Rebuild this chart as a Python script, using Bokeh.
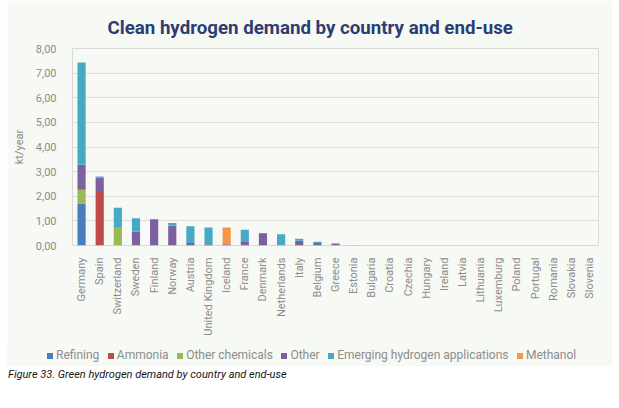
from bokeh.plotting import figure
from bokeh.models import FactorRange, FixedTicker, Div, ColumnDataSource
from bokeh.layouts import column
from bokeh.embed import file_html
from bokeh.resources import INLINE
import math

countries = ["Germany", "Spain", "Switzerland", "Sweden", "Finland", "Norway", "Austria",
             "United Kingdom", "Iceland", "France", "Denmark", "Netherlands", "Italy", "Belgium",
             "Greece", "Estonia", "Bulgaria", "Croatia", "Czechia", "Hungary", "Ireland", "Latvia",
             "Lithuania", "Luxemburg", "Poland", "Portugal", "Romania", "Slovakia", "Slovenia"]

refining        = [1.70, 0.00, 0.00, 0.00, 0.00, 0.00, 0.00, 0.00, 0.00, 0.00, 0.00, 0.00, 0.00, 0.00, 0.00, 0.00, 0, 0, 0, 0, 0, 0, 0, 0, 0, 0, 0, 0, 0]
ammonia         = [0.00, 2.21, 0.00, 0.00, 0.00, 0.00, 0.00, 0.00, 0.00, 0.00, 0.00, 0.00, 0.00, 0.00, 0.00, 0.00, 0, 0, 0, 0, 0, 0, 0, 0, 0, 0, 0, 0, 0]
other_chemicals = [0.56, 0.00, 0.75, 0.00, 0.00, 0.00, 0.00, 0.00, 0.00, 0.00, 0.00, 0.00, 0.00, 0.00, 0.00, 0.00, 0, 0, 0, 0, 0, 0, 0, 0, 0, 0, 0, 0, 0]
other           = [1.02, 0.55, 0.00, 0.57, 1.07, 0.81, 0.10, 0.05, 0.05, 0.14, 0.47, 0.00, 0.19, 0.10, 0.08, 0.01, 0, 0, 0, 0, 0, 0, 0, 0, 0, 0, 0, 0, 0]
emerging        = [4.15, 0.04, 0.78, 0.54, 0.00, 0.10, 0.68, 0.68, 0.00, 0.50, 0.04, 0.46, 0.08, 0.05, 0.00, 0.00, 0, 0, 0, 0, 0, 0, 0, 0, 0, 0, 0, 0, 0]
methanol        = [0.00, 0.00, 0.00, 0.00, 0.00, 0.00, 0.00, 0.00, 0.68, 0.00, 0.00, 0.00, 0.00, 0.00, 0.00, 0.00, 0, 0, 0, 0, 0, 0, 0, 0, 0, 0, 0, 0, 0]

series_keys = ["refining", "ammonia", "other_chemicals", "other", "emerging", "methanol"]
series_labels = ["Refining", "Ammonia", "Other chemicals", "Other", "Emerging hydrogen applications", "Methanol"]
colors = ["#4a7ebb", "#be4b48", "#98b954", "#7d60a0", "#46aac5", "#f79646"]

y_ticks = [0, 1, 2, 3, 4, 5, 6, 7, 8]
y_tick_labels = ["0,00", "1,00", "2,00", "3,00", "4,00", "5,00", "6,00", "7,00", "8,00"]

source = ColumnDataSource(dict(country=countries, refining=refining, ammonia=ammonia,
                               other_chemicals=other_chemicals, other=other,
                               emerging=emerging, methanol=methanol))

BG = "#f7f9f4"
GREY = "#8c8c8c"

p = figure(x_range=FactorRange(*countries), y_range=(0, 8), width=605, height=346,
           output_backend="svg", toolbar_location=None,
           background_fill_color=BG, border_fill_color=BG,
           min_border_left=65, min_border_right=14, min_border_top=48, min_border_bottom=101)
p.margin = (0, 0, 0, 7)

p.vbar_stack(series_keys, x="country", width=0.45, color=colors, source=source, line_width=0)

p.title.text = "Clean hydrogen demand by country and end-use"
p.title.align = "left"
p.title.text_font = "Roboto"
p.title.text_font_size = "18.7px"
p.title.text_font_style = "bold"
p.title.text_color = "#2b3d73"
p.title.offset = 35
p.title.standoff = 19

p.outline_line_color = "#d9d9d9"
p.xgrid.grid_line_color = None
p.ygrid.grid_line_color = "#dcdcdc"

p.yaxis.ticker = FixedTicker(ticks=y_ticks)
p.yaxis.major_label_overrides = {t: l for t, l in zip(y_ticks, y_tick_labels)}
p.yaxis.axis_label = "kt/year"
p.yaxis.axis_label_text_font = "Roboto"
p.yaxis.axis_label_text_font_style = "normal"
p.yaxis.axis_label_text_font_size = "11px"
p.yaxis.axis_label_text_color = GREY
p.yaxis.axis_label_standoff = 7

for ax in (p.xaxis[0], p.yaxis[0]):
    ax.axis_line_color = None
    ax.major_tick_line_color = None
    ax.minor_tick_line_color = None
    ax.major_label_text_font = "Roboto"
    ax.major_label_text_font_size = "11px"
    ax.major_label_text_color = GREY

p.xaxis.major_label_orientation = math.pi / 2
p.xaxis.major_label_standoff = 6
p.yaxis.major_label_standoff = 10

# legend strip as HTML (swatch + label per series)
items_html = "".join(
    f'<span style="display:inline-flex;align-items:center;margin-right:8.5px;">'
    f'<span style="display:inline-block;width:6px;height:6px;background:{c};margin-right:3px;"></span>'
    f'{lab}</span>'
    for lab, c in zip(series_labels, colors))
legend_div = Div(text=f'<div style="display:flex;align-items:center;height:20px;padding-left:40px;'
                      f'font-family:Roboto;font-size:12px;color:{GREY};white-space:nowrap;">'
                      f'{items_html}</div>',
                 width=605, height=20, styles={"background-color": BG})
legend_div.margin = (0, 0, 0, 7)

caption = Div(text="Figure 33. Green hydrogen demand by country and end-use",
              styles={"font-family": "Roboto", "font-style": "italic", "font-size": "11px",
                      "color": "#151515"}, width=604)
caption.margin = (1, 0, 0, 8)

layout = column(p, legend_div, caption, spacing=0)
open("out.html", "w").write(file_html(layout, INLINE))
